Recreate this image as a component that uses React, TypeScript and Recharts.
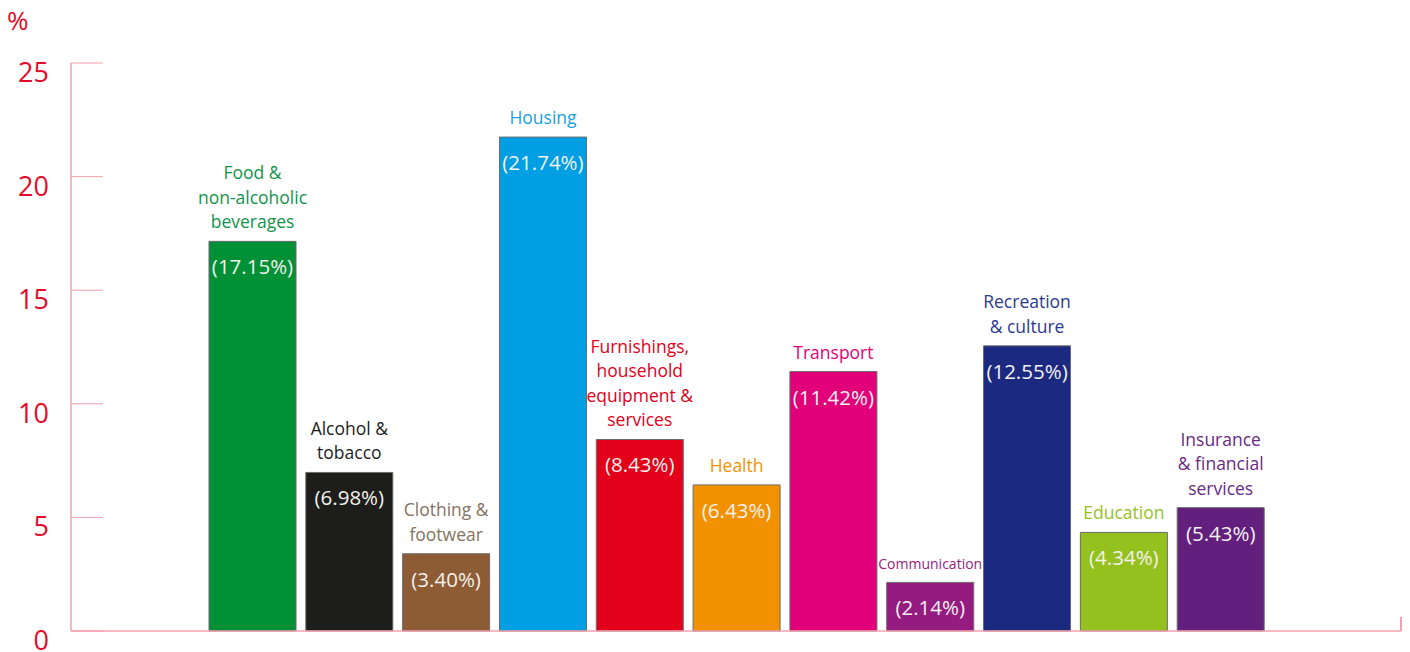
import React from 'react';
import { BarChart, Bar, XAxis, YAxis, Cell, LabelList } from 'recharts';

const categories = [
  'Food &\nnon-alcoholic\nbeverages',
  'Alcohol &\ntobacco',
  'Clothing &\nfootwear',
  'Housing',
  'Furnishings,\nhousehold\nequipment &\nservices',
  'Health',
  'Transport',
  'Communication',
  'Recreation\n& culture',
  'Education',
  'Insurance\n& financial\nservices',
];
const shares = [17.15, 6.98, 3.4, 21.74, 8.43, 6.43, 11.42, 2.14, 12.55, 4.34, 5.43];
const barColors = ['#009036', '#1d1d1b', '#8d5b34', '#009fe3', '#e2001a', '#f39200', '#e2007a', '#951b81', '#1b2a80', '#95c11f', '#621f7d'];
const labelColors = ['#12944a', '#1d1d1b', '#857360', '#1aa0e0', '#e2001a', '#f39200', '#e2007a', '#951b81', '#2b3a8c', '#95c11f', '#6a2a82'];
const yTicks = [0, 5, 10, 15, 20, 25];

const data = categories.map((c, i) => ({ name: c, value: shares[i] }));

const AXIS = '#f3a0ae';
const RED = '#e30a2a';
const FONT = '"Open Sans", sans-serif';

const YTick = (props: any) => {
  const { x, y, payload } = props;
  return (
    <g>
      <line x1={x} x2={x + 32} y1={y} y2={y} stroke={AXIS} strokeWidth={1} />
      <text x={x - 22} y={y + 19} textAnchor="end" fill={RED} fontSize={27} fontFamily={FONT}>
        {payload.value}
      </text>
    </g>
  );
};

const CatLabel = (props: any) => {
  const { x, y, width, index } = props;
  const lines = categories[index].split('\n');
  const small = categories[index] === 'Communication';
  const fs = small ? 14 : 17.5;
  const lh = 24.5;
  const cx = x + width / 2;
  const lastY = y - 13;
  return (
    <text textAnchor="middle" fill={labelColors[index]} fontSize={fs} fontWeight={500} fontFamily={FONT}>
      {lines.map((l, i) => (
        <tspan key={i} x={cx} y={lastY - (lines.length - 1 - i) * lh}>
          {l}
        </tspan>
      ))}
    </text>
  );
};

const ValLabel = (props: any) => {
  const { x, y, width, value } = props;
  return (
    <text x={x + width / 2} y={y + 33} textAnchor="middle" fill="#f4f1ee" fontSize={20.5} fontFamily={FONT}>
      {`(${Number(value).toFixed(2)}%)`}
    </text>
  );
};

export default function App() {
  return (
    <div style={{ position: 'absolute', left: 0, top: 0, width: 1410, height: 652, background: '#fff' }}>
      <div style={{ position: 'absolute', left: 7, top: 2, color: RED, fontSize: 26, fontFamily: FONT, lineHeight: '36px' }}>%</div>
      <div style={{ position: 'absolute', left: 1400, top: 617, width: 1.5, height: 14, background: AXIS }} />
      <BarChart
        width={1410}
        height={652}
        data={data}
        margin={{ top: 63, right: 9, left: 0, bottom: 0 }}
        barSize={87}
      >
        <XAxis
          dataKey="name"
          tick={false}
          tickLine={false}
          axisLine={{ stroke: AXIS, strokeWidth: 1.5 }}
          padding={{ left: 133, right: 132 }}
          height={21}
        />
        <YAxis
          width={71}
          domain={[0, 25]}
          ticks={yTicks}
          interval={0}
          tickSize={0}
          tickMargin={0}
          tick={<YTick />}
          axisLine={{ stroke: AXIS, strokeWidth: 1.5 }}
          tickLine={false}
        />
        <Bar dataKey="value" isAnimationActive={false} stroke="#6b6b6b" strokeWidth={1}>
          {data.map((d, i) => (
            <Cell key={i} fill={barColors[i]} />
          ))}
          <LabelList dataKey="value" content={<ValLabel />} />
          <LabelList dataKey="name" content={<CatLabel />} />
        </Bar>
      </BarChart>
    </div>
  );
}
